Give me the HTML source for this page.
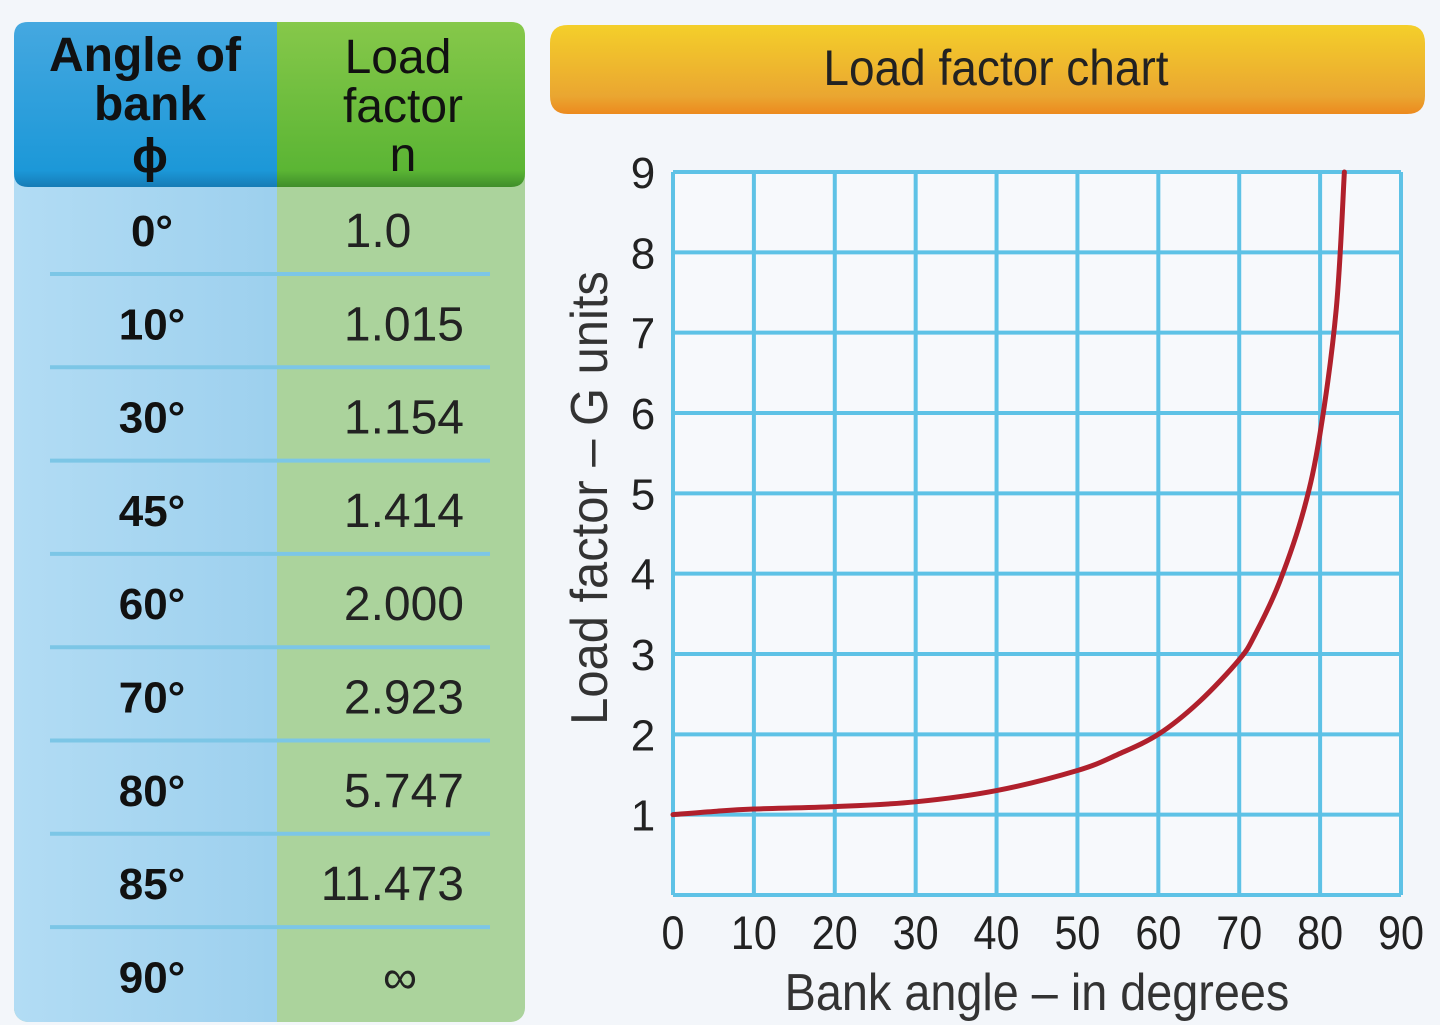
<!DOCTYPE html>
<html><head><meta charset="utf-8"><style>
html,body{margin:0;padding:0;background:#f3f6fa;}
svg{display:block;font-family:"Liberation Sans",sans-serif;}
</style></head><body>
<svg id="root" width="1440" height="1025" viewBox="0 0 1440 1025">
<defs>
<linearGradient id="bg-blue" x1="0" x2="1"><stop offset="0" stop-color="#b2dcf4"/><stop offset="1" stop-color="#9dd0ee"/></linearGradient>
<linearGradient id="hd-orange" x1="0" y1="0" x2="0" y2="1"><stop offset="0" stop-color="#f4cf2a"/><stop offset="0.8" stop-color="#eaa631"/><stop offset="1" stop-color="#ec8a1e"/></linearGradient>
<linearGradient id="hd-blue" x1="0" y1="0" x2="0" y2="1"><stop offset="0" stop-color="#45a8e0"/><stop offset="0.9" stop-color="#1c98d8"/><stop offset="1" stop-color="#167cb6"/></linearGradient>
<linearGradient id="hd-green" x1="0" y1="0" x2="0" y2="1"><stop offset="0" stop-color="#86c84a"/><stop offset="0.9" stop-color="#5bb534"/><stop offset="1" stop-color="#3f8e2a"/></linearGradient>
</defs>
<g>
<rect x="14" y="22" width="511" height="1000" rx="14" fill="#abd39c"/>
<rect x="14" y="22" width="263" height="1000" rx="14" fill="url(#bg-blue)"/>
<rect x="264" y="22" width="13" height="1000" fill="#9dd0ee"/>
<path d="M28 22 H277 V187 H28 Q14 187 14 173 V36 Q14 22 28 22Z" fill="url(#hd-blue)"/>
<path d="M277 22 H511 Q525 22 525 36 V173 Q525 187 511 187 H277Z" fill="url(#hd-green)"/>
<g font-weight="bold" font-size="48" text-anchor="middle" fill="#111">
<text x="145" y="71">Angle of</text>
<text x="150" y="120">bank</text>
<text x="150" y="172">ϕ</text>
</g>
<g font-size="48" text-anchor="middle" fill="#111">
<text x="398" y="73">Load</text>
<text x="403" y="122">factor</text>
<text x="403" y="171">n</text>
</g>
<g id="rows"></g>
</g>
<path d="M568 25 H1407 Q1425 25 1425 43 V96 Q1425 114 1407 114 H568 Q550 114 550 96 V43 Q550 25 568 25Z" fill="url(#hd-orange)"/>
<text x="996" y="85" font-size="50" text-anchor="middle" fill="#222" transform="translate(996 0) scale(0.92 1) translate(-996 0)">Load factor chart</text>
<rect x="673" y="172" width="728" height="723" fill="#f7f9fc"/>
<g id="grid"></g>
<g id="ticks" font-size="44" fill="#222"></g>
<path id="curve" fill="none" stroke="#b0202c" stroke-width="5" stroke-linecap="round"/>
<text x="1037" y="1010" font-size="52" text-anchor="middle" fill="#333" transform="translate(1037 0) scale(0.9 1) translate(-1037 0)">Bank angle – in degrees</text>
<text transform="translate(607 498) rotate(-90) scale(0.94 1)" font-size="52" text-anchor="middle" fill="#333">Load factor – G units</text>
</svg>
<script>
const tableAngles=["0°","10°","30°","45°","60°","70°","80°","85°","90°"];
const tableLoads=["1.0","1.015","1.154","1.414","2.000","2.923","5.747","11.473","∞"];
const xTicks=[0,10,20,30,40,50,60,70,80,90];
const yTicks=[1,2,3,4,5,6,7,8,9];
const curveAngles=[0,5,10,20,30,40,50,55,60,65,70,72,75,78,80,82,83];
const curveLoads=[1.0,1.04,1.07,1.1,1.16,1.3,1.55,1.75,2.0,2.4,2.93,3.25,3.9,4.8,5.75,7.3,9.0];
const NS="http://www.w3.org/2000/svg";
const X0=673,X1=1401,Y0=895,Y1=172;
const xs=v=>X0+(v-0)/(90-0)*(X1-X0);
const ys=v=>Y0-(v-0)/(9-0)*(Y0-Y1);
function mk(tag,attrs,parent){const e=document.createElementNS(NS,tag);for(const k in attrs)e.setAttribute(k,attrs[k]);parent.appendChild(e);return e;}
const rows=document.getElementById('rows');
const rowH=93.3,firstY=230;
tableAngles.forEach((a,i)=>{
  const cy=firstY+i*rowH;
  const t1=mk('text',{x:152,y:cy+16,'font-size':44,'font-weight':'bold','text-anchor':'middle',fill:'#111'},rows);
  t1.textContent=a;
  
  
  const t2=mk('text',{x:464,y:cy+17,'font-size':48,'text-anchor':'end',fill:'#222'},rows);
  t2.textContent=tableLoads[i];
  
  
  if(tableLoads[i]==="∞"){t2.setAttribute('text-anchor','middle');t2.setAttribute('x',400);}
  if(tableLoads[i]==="1.0"){t2.setAttribute('text-anchor','middle');t2.setAttribute('x',378);}
  if(i<tableAngles.length-1){
    const l=mk('line',{x1:50,x2:490,y1:cy+44,y2:cy+44,stroke:'#7cc6e6','stroke-width':4},rows);
    
    
  }
});
const grid=document.getElementById('grid');
xTicks.forEach(v=>{
  const l=mk('line',{x1:xs(v),x2:xs(v),y1:Y1,y2:Y0,stroke:'#5ec2e6','stroke-width':4},grid);
  
  
});
[0].concat(yTicks).forEach(v=>{
  const l=mk('line',{x1:X0,x2:X1,y1:ys(v),y2:ys(v),stroke:'#5ec2e6','stroke-width':4},grid);
  
  
});
const ticks=document.getElementById('ticks');
xTicks.forEach(v=>{
  const t=mk('text',{x:xs(v),y:949,'font-size':47,'text-anchor':'middle',transform:`translate(${xs(v)} 0) scale(0.88 1) translate(${-xs(v)} 0)`},ticks);
  t.textContent=v;
  
  
});
yTicks.forEach(v=>{
  const t=mk('text',{x:643,y:ys(v)+16,'text-anchor':'middle'},ticks);
  t.textContent=v;
  
  
});
const P=curveAngles.map((a,i)=>[xs(a),ys(curveLoads[i])]);
let d=`M${P[0][0]},${P[0][1]}`;
for(let i=0;i<P.length-1;i++){
  const p0=P[Math.max(0,i-1)],p1=P[i],p2=P[i+1],p3=P[Math.min(P.length-1,i+2)];
  const c1=[p1[0]+(p2[0]-p0[0])/6,p1[1]+(p2[1]-p0[1])/6];
  const c2=[p2[0]-(p3[0]-p1[0])/6,p2[1]-(p3[1]-p1[1])/6];
  d+=` C${c1[0]},${c1[1]} ${c2[0]},${c2[1]} ${p2[0]},${p2[1]}`;
}
document.getElementById('curve').setAttribute('d',d);
</script>
</body></html>
